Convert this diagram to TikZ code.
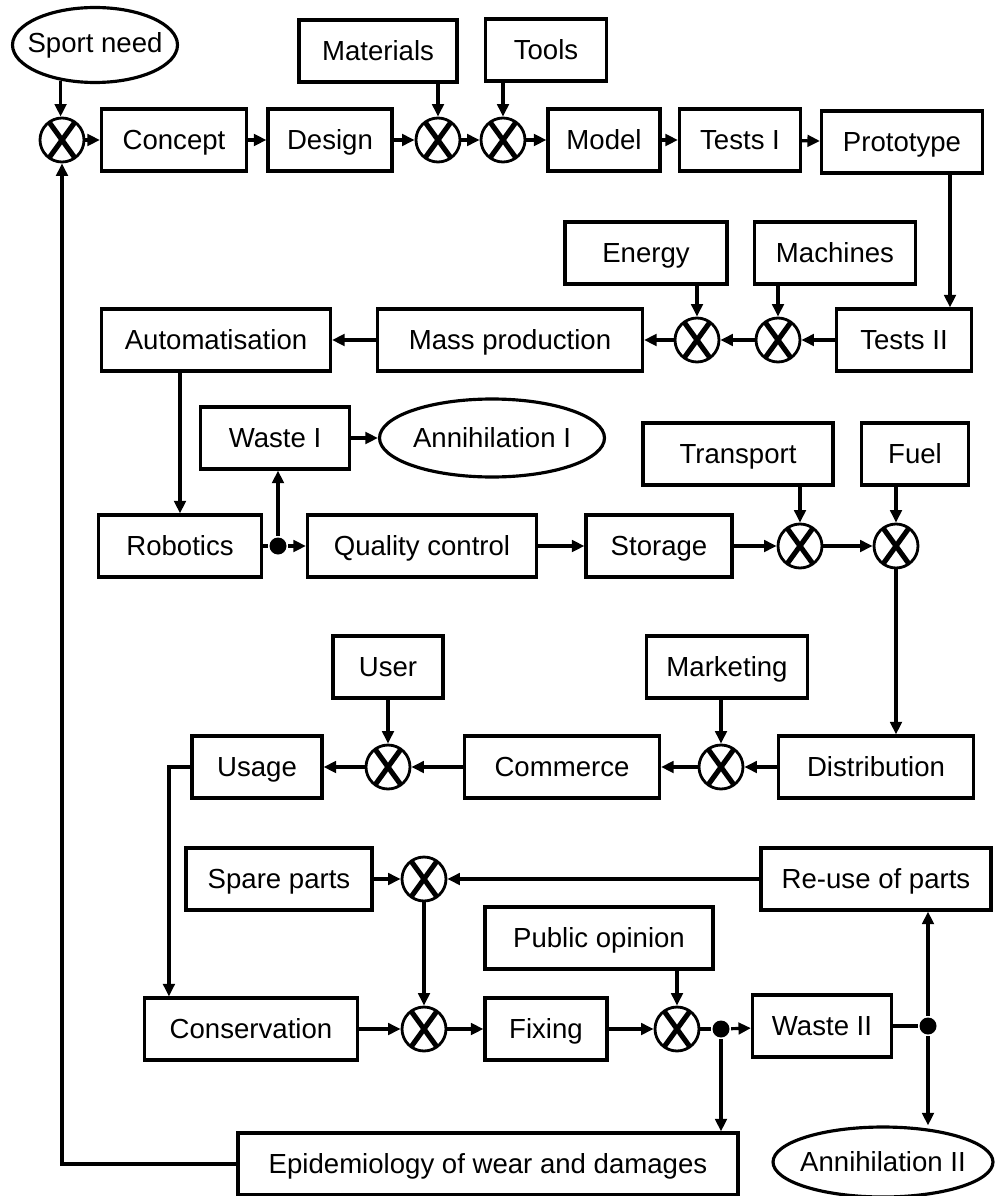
\documentclass[tikz,border=0pt]{standalone}
\usepackage{fontspec}
\setmainfont{Liberation Sans}
\usetikzlibrary{positioning, shapes.geometric, arrows.meta}

\tikzset{
  box/.style={draw, rectangle, line width=1.8pt, minimum height=1.24cm, inner sep=2pt,
    text height=12pt, text depth=1.5pt},
  oval/.style={draw, ellipse, line width=1.8pt, inner xsep=-0.2cm, inner ysep=0pt},
  mult/.style={draw, circle, line width=1.6pt, minimum size=0.88cm, inner sep=0pt,
    path picture={\draw[line width=2.9pt]
      ([shift={(-0.26cm,0.36cm)}]path picture bounding box.center) -- ([shift={(0.26cm,-0.36cm)}]path picture bounding box.center)
      ([shift={(0.26cm,0.36cm)}]path picture bounding box.center) -- ([shift={(-0.26cm,-0.36cm)}]path picture bounding box.center);}},
  joint/.style={circle, fill, minimum size=0.34cm, inner sep=0pt},
  flow/.style={line width=1.8pt},
}

\begin{document}
\begin{tikzpicture}[x=0.02cm, y=-0.02cm, on grid, line width=1.8pt,
    >={Triangle[length=2.5mm,width=2.3mm]},
    font=\fontsize{15.7}{18}\selectfont]
   \useasboundingbox (0,0) rectangle (995,1196);

   % design line
   \node[oval, minimum width=3.3cm, minimum height=1.5cm] (need) at (95,45) {Sport need};
   \node[mult] (x1) at (62,140) {};
   \node[box, minimum width=2.9cm] (concept) at (174,140) {Concept};
   \node[box, minimum width=2.48cm] (design) at (330,140) {Design};
   \node[box, minimum width=3.16cm] (materials) at (378,51) {Materials};
   \node[mult] (x2) at (438,140) {};
   \node[box, minimum width=2.42cm] (tools) at (546,50) {Tools};
   \node[mult] (x3) at (503,140) {};
   \node[box, minimum width=2.24cm] (model) at (604,140) {Model};
   \node[box, minimum width=2.42cm] (tests1) at (740,140) {Tests I};
   \node[box, minimum width=3.22cm] (proto) at (902,142) {Prototype};

   % production
   \node[box, minimum width=3.24cm] (energy) at (646,253) {Energy};
   \node[box, minimum width=3.22cm] (machines) at (835,253) {Machines};
   \node[box, minimum width=2.7cm] (tests2) at (904,340) {Tests II};
   \node[mult] (x5) at (778,340) {};
   \node[mult] (x4) at (697,340) {};
   \node[box, minimum width=5.3cm] (mass) at (510,340) {Mass production};
   \node[box, minimum width=4.58cm] (auto) at (216,340) {Automatisation};

   % quality and transport
   \node[box, minimum width=2.98cm] (waste1) at (275,438) {Waste I};
   \node[oval, minimum width=4.5cm, minimum height=1.56cm] (ann1) at (492,438) {Annihilation I};
   \node[box, minimum width=3.26cm] (robotics) at (180,546) {Robotics};
   \node[joint] (j1) at (278,546) {};
   \node[box, minimum width=4.58cm] (quality) at (422,546) {Quality control};
   \node[box, minimum width=2.92cm] (storage) at (659,546) {Storage};
   \node[box, minimum width=3.8cm] (transport) at (738,454) {Transport};
   \node[box, minimum width=2.14cm] (fuel) at (915,454) {Fuel};
   \node[mult] (x6) at (800,546) {};
   \node[mult] (x7) at (896,546) {};

   % market
   \node[box, minimum width=3.9cm] (distr) at (876,767) {Distribution};
   \node[mult] (x9) at (721,767) {};
   \node[box, minimum width=3.22cm] (marketing) at (727,667) {Marketing};
   \node[box, minimum width=3.9cm] (commerce) at (562,767) {Commerce};
   \node[mult] (x8) at (388,767) {};
   \node[box, minimum width=2.2cm] (user) [above=2cm of x8] {User};
   \node[box, minimum width=2.6cm] (usage) at (257,767) {Usage};

   % maintenance
   \node[mult] (x10) at (424,879) {};
   \node[box, minimum width=3.72cm] (spare) [left=2.9cm of x10] {Spare parts};
   \node[box, minimum width=4.6cm] (reuse) at (876,879) {Re-use of parts};
   \node[box, minimum width=4.56cm] (public) at (599,938) {Public opinion};
   \node[box, minimum width=4.26cm] (cons) at (251,1029) {Conservation};
   \node[mult] (x11) at (424,1029) {};
   \node[box, minimum width=2.44cm] (fixing) at (546,1029) {Fixing};
   \node[mult] (x12) at (677,1029) {};
   \node[joint] (j2) at (721,1029) {};
   \node[box, minimum width=2.78cm] (waste2) at (822,1026) {Waste II};
   \node[joint] (j3) at (928,1026) {};
   \node[box, minimum width=10cm] (epi) at (488,1164) {Epidemiology of wear and damages};
   \node[oval, minimum width=4.4cm, minimum height=1.4cm] (ann2) at (883,1162) {Annihilation II};

   \path[->, every edge/.append style={flow}]
    (need.-134) edge (need.-134 |- x1.north)
    (x1) edge (concept)
    (concept) edge (design)
    (design) edge (x2)
    (materials.south -| x2) edge (x2)
    (x2) edge (x3)
    (tools.south -| x3) edge (x3)
    (x3) edge (model)
    (model) edge (tests1)
    (tests1) edge (proto)
    ([xshift=0.96cm]proto.south) edge ([xshift=0.96cm]proto.south |- tests2.north)
    (tests2) edge (x5)
    (machines.south -| x5) edge (x5)
    (x5) edge (x4)
    (energy.south -| x4) edge (x4)
    (x4) edge (mass)
    (mass) edge (auto)
    (auto.south -| robotics.north) edge (robotics.north)
    (j1) edge (quality)
    (j1) edge (j1 |- waste1.south)
    (waste1) edge (ann1)
    (quality) edge (storage)
    (storage) edge (x6)
    (transport.south -| x6) edge (x6)
    (x6) edge (x7)
    (fuel.south -| x7) edge (x7)
    (x7) edge (x7 |- distr.north)
    (distr) edge (x9)
    (marketing.south -| x9) edge (x9)
    (x9) edge (commerce)
    (commerce) edge (x8)
    (user) edge (x8)
    (x8) edge (usage)
    (spare) edge (x10)
    (reuse) edge (x10)
    (x10) edge (x11)
    (cons) edge (x11)
    (x11) edge (fixing)
    (fixing) edge (x12)
    (public.south -| x12) edge (x12)
    (j2) edge (waste2)
    (j2) edge (j2 |- epi.north)
    (j3) edge (j3 |- reuse.south)
    (j3) edge (j3 |- ann2.north);
   \draw[flow] (robotics) -- (j1);
   \draw[flow] (x12) -- (j2);
   \draw[flow] (waste2) -- (j3);
   \draw[flow, ->] (usage.west) -| ([xshift=0.52cm]cons.north west);
   \draw[flow, ->] (epi) -| (x1);
\end{tikzpicture}
\end{document}
